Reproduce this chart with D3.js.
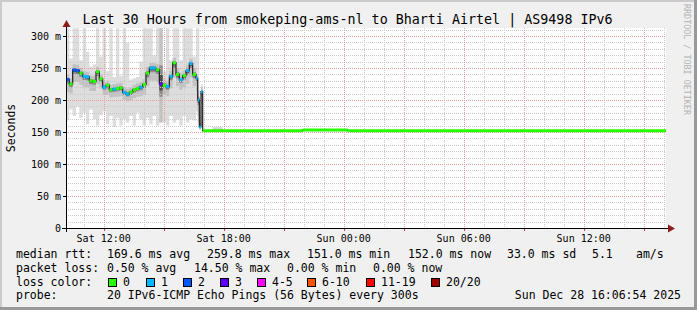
<!DOCTYPE html>
<html>
<head>
<meta charset="utf-8" />
<title>Smokeping - Bharti Airtel</title>
<script src="https://d3js.org/d3.v7.min.js"></script>
<style>
  body { margin: 0; background: #f0f0f0; }
  text { font-family: "DejaVu Sans Mono", monospace; white-space: pre; }
</style>
</head>
<body>
<svg id="viz"></svg>
<script>
var width = 697, height = 310;

// step starts in minutes after the left edge (Sat 10:06:54), last step runs to 1800
var stepStart = [0,10,20,30,40,50,60,70,80,90,100,110,120,130,140,150,160,170,180,190,
  200,210,220,230,240,250,260,270,280,290,300,310,320,330,340,350,360,370,380,390,395,400,405,
  410,440,470,710,845];
// median rtt in ms
var median = [232,225,247,246,242,237,236,230,229,244,233,220,223,216,217,218,219,212,209,212,
  216,218,220,224,242,250,250,247,225,223,221,237,258,240,232,238,246,257,240,234,200,158,213,
  152,152,152,153,152];
// lost pings out of 20
var lossCount = [2,0,2,2,0,1,1,0,0,0,0,1,0,0,1,0,0,1,1,0,
  0,0,1,0,0,1,1,0,3,0,1,1,0,0,1,0,1,1,0,1,1,1,1,
  0,0,0,0,0];
// smoke: fastest ping, lower/upper inner band, slowest ping (ms)
var pingLo = [168,185,175,190,172,180,162,185,170,160,176,182,162,175,158,172,160,170,165,175,
  160,180,170,160,172,162,175,160,165,165,160,175,165,170,160,175,165,170,168,182,165,154,160,
  151,151,151,152,151];
var pingQ1 = [212,210,228,228,224,220,220,214,214,225,218,208,208,204,205,205,206,200,198,200,
  203,205,206,208,222,230,230,228,165,208,206,218,235,222,216,220,225,235,222,215,175,154,195,
  151.5,151.5,151.5,152.5,151.5];
var pingQ3 = [240,234,256,255,250,245,244,238,238,252,240,228,230,224,225,226,227,220,218,220,
  224,226,228,232,252,258,258,256,312,232,230,246,266,250,242,246,255,265,250,240,215,175,220,
  152.5,155,152.5,153.5,152.5];
var pingHi = [312,265,312,312,262,312,275,252,256,312,268,312,245,312,236,312,238,312,290,232,
  234,236,260,312,312,312,270,312,312,245,312,262,312,312,262,312,312,312,268,312,312,190,225,
  152,158,152,153.5,152.5];

var lossLabels = ["0", "1", "2", "3", "4-5", "6-10", "11-19", "20/20"];
var lossColors = ["#26ff00", "#00b8ff", "#0059ff", "#5e00ff", "#ff00ff", "#ff5500", "#ff0000", "#a10000"];
var lossUpper = [0, 1, 2, 3, 5, 10, 19, 20];

var rttLegend = ["median rtt:", "169.6 ms avg", "259.8 ms max", "151.0 ms min", "152.0 ms now", "33.0 ms sd", "5.1", "am/s"];
var lossLegend = ["packet loss:", "0.50 % avg", "14.50 % max", "0.00 % min", "0.00 % now"];
var probeText = ["probe:", "20 IPv6-ICMP Echo Pings (56 Bytes) every 300s"];
var stampText = "Sun Dec 28 16:06:54 2025";
var titleText = "Last 30 Hours from smokeping-ams-nl to Bharti Airtel | AS9498 IPv6";

var svg = d3.select("#viz").attr("width", width).attr("height", height);

// canvas and frame
svg.append("rect").attr("width", width).attr("height", height).attr("fill", "#f0f0f0");
svg.append("rect").attr("x", 0).attr("y", 0).attr("width", width).attr("height", 2).attr("fill", "#cbcbcb");
svg.append("rect").attr("x", 0).attr("y", 0).attr("width", 2).attr("height", height).attr("fill", "#cbcbcb");
svg.append("rect").attr("x", width - 3).attr("y", 0).attr("width", 3).attr("height", height).attr("fill", "#999999");
svg.append("rect").attr("x", 0).attr("y", height - 3).attr("width", width).attr("height", 3).attr("fill", "#999999");

var t0 = new Date(2025, 11, 27, 10, 6, 54);
var t1 = new Date(2025, 11, 28, 16, 6, 54);
var x = d3.scaleTime().domain([t0, t1]).range([66, 666]);
var y = d3.scaleLinear().domain([0, 312.5]).range([228, 28]);
function at(m) { return new Date(t0.getTime() + m * 60000); }

svg.append("rect").attr("x", 66).attr("y", 28).attr("width", 600).attr("height", 200).attr("fill", "#ffffff");

var steps = stepStart.map(function(s, i) {
  return {
    s: s, e: i + 1 < stepStart.length ? stepStart[i + 1] : 1800,
    med: median[i], loss: lossCount[i],
    lo: pingLo[i], q1: pingQ1[i], q3: pingQ3[i], hi: pingHi[i]
  };
});
var pts = steps.concat([Object.assign({}, steps[steps.length - 1], { s: 1800 })]);

svg.append("clipPath").attr("id", "clip").append("rect")
  .attr("x", 66).attr("y", 28).attr("width", 600).attr("height", 200);
var plot = svg.append("g").attr("clip-path", "url(#clip)");

// smoke bands, lighter outside, darker near the median
var bands = [
  { lo: function(d) { return d.lo; }, hi: function(d) { return d.hi; }, c: "#dddddd" },
  { lo: function(d) { return d.q1; }, hi: function(d) { return d.q3; }, c: "#c2c2c2" },
  { lo: function(d) { return (d.q1 + 2 * d.med) / 3; }, hi: function(d) { return (d.q3 + 2 * d.med) / 3; }, c: "#8c8c8c" },
  { lo: function(d) { return (d.q1 + 5 * d.med) / 6; }, hi: function(d) { return (d.q3 + 5 * d.med) / 6; }, c: "#505050" }
];
bands.forEach(function(b) {
  plot.append("path").datum(pts)
    .attr("fill", b.c)
    .attr("d", d3.area().curve(d3.curveStepAfter)
      .x(function(d) { return x(at(d.s)); })
      .y0(function(d) { return y(b.lo(d)); })
      .y1(function(d) { return y(b.hi(d)); }));
});

// grid
var minorY = d3.range(10, 312.5, 10).filter(function(v) { return v % 50 !== 0; });
var majorY = d3.range(50, 312.5, 50);
var hours = x.ticks(d3.timeHour.every(1));
var grid = svg.append("g").attr("shape-rendering", "crispEdges");
grid.selectAll(".hmin").data(minorY).enter().append("line")
  .attr("x1", 66).attr("x2", 666)
  .attr("y1", function(d) { return Math.round(y(d)) + 0.5; })
  .attr("y2", function(d) { return Math.round(y(d)) + 0.5; })
  .attr("stroke", "#cacaca").attr("stroke-dasharray", "1,1");
grid.selectAll(".vmin").data(hours.filter(function(d) { return d.getHours() % 3 !== 0; })).enter().append("line")
  .attr("y1", 28).attr("y2", 228)
  .attr("x1", function(d) { return Math.round(x(d)) + 0.5; })
  .attr("x2", function(d) { return Math.round(x(d)) + 0.5; })
  .attr("stroke", "#cacaca").attr("stroke-dasharray", "1,1");
grid.selectAll(".hmaj").data(majorY).enter().append("line")
  .attr("x1", 66).attr("x2", 666)
  .attr("y1", function(d) { return Math.round(y(d)) + 0.5; })
  .attr("y2", function(d) { return Math.round(y(d)) + 0.5; })
  .attr("stroke", "#e4a0a0").attr("stroke-dasharray", "1,1");
grid.selectAll(".vmaj").data(hours.filter(function(d) { return d.getHours() % 3 === 0; })).enter().append("line")
  .attr("y1", 28).attr("y2", 228)
  .attr("x1", function(d) { return Math.round(x(d)) + 0.5; })
  .attr("x2", function(d) { return Math.round(x(d)) + 0.5; })
  .attr("stroke", "#e4a0a0").attr("stroke-dasharray", "1,1");

// median line and loss coloured steps
var lines = svg.append("g").attr("clip-path", "url(#clip)");
lines.append("path").datum(pts)
  .attr("fill", "none").attr("stroke", "#202020").attr("stroke-width", 1.2)
  .attr("d", d3.line().curve(d3.curveStepAfter)
    .x(function(d) { return x(at(d.s)); })
    .y(function(d) { return y(d.med); }));
function lossColor(n) {
  for (var i = 0; i < lossUpper.length; i++) if (n <= lossUpper[i]) return lossColors[i];
  return lossColors[lossColors.length - 1];
}
lines.selectAll(".seg").data(steps).enter().append("line")
  .attr("x1", function(d) { return x(at(d.s)); })
  .attr("x2", function(d) { return x(at(d.e)); })
  .attr("y1", function(d) { return y(d.med); })
  .attr("y2", function(d) { return y(d.med); })
  .attr("stroke", function(d) { return lossColor(d.loss); })
  .attr("stroke-width", 3);

// axes
var axis = svg.append("g").attr("shape-rendering", "crispEdges");
axis.append("line").attr("x1", 62).attr("x2", 669).attr("y1", 228.5).attr("y2", 228.5).attr("stroke", "#000");
axis.append("line").attr("x1", 66.5).attr("x2", 66.5).attr("y1", 232).attr("y2", 25).attr("stroke", "#000");
axis.selectAll(".yt").data(majorY.concat([0])).enter().append("line")
  .attr("x1", 63).attr("x2", 66)
  .attr("y1", function(d) { return Math.round(y(d)) + 0.5; })
  .attr("y2", function(d) { return Math.round(y(d)) + 0.5; })
  .attr("stroke", "#000");
axis.selectAll(".xt").data(hours.filter(function(d) { return d.getHours() % 3 === 0; })).enter().append("line")
  .attr("y1", 229).attr("y2", 231)
  .attr("x1", function(d) { return Math.round(x(d)) + 0.5; })
  .attr("x2", function(d) { return Math.round(x(d)) + 0.5; })
  .attr("stroke", "#c04040");
svg.append("path").attr("d", "M62.5,27 L70.5,27 L66.5,20 Z").attr("fill", "#8e1c1c");
svg.append("path").attr("d", "M668,224.5 L668,232.5 L675,228.5 Z").attr("fill", "#8e1c1c");

svg.selectAll(".ylab").data([0].concat(majorY)).enter().append("text")
  .attr("x", 61).attr("y", function(d) { return y(d) + 3.5; })
  .attr("text-anchor", "end").attr("font-size", "10px").attr("fill", "#000")
  .text(function(d) { return d === 0 ? "0" : d + " m"; });

var fmt = d3.timeFormat("%a %H:%M");
svg.selectAll(".xlab").data(x.ticks(d3.timeHour.every(6))).enter().append("text")
  .attr("x", function(d) { return x(d); }).attr("y", 242)
  .attr("text-anchor", "middle").attr("font-size", "10px").attr("fill", "#000")
  .text(fmt);

// titles
svg.append("text").attr("x", 347.5).attr("y", 23.5).attr("text-anchor", "middle")
  .attr("font-size", "13.35px").attr("fill", "#000").text(titleText);
svg.append("text").attr("transform", "translate(15,128) rotate(-90)").attr("text-anchor", "middle")
  .attr("font-size", "11.5px").attr("fill", "#000").text("Seconds");
svg.append("text").attr("transform", "translate(684,4) rotate(90)")
  .attr("font-size", "8.4px").attr("fill", "#b4b4b4").text("RRDTOOL / TOBI OETIKER");

// legend
var rttX = [16, 107, 207, 307, 408, 507, 592, 636];
var lossX = [16, 107, 194, 287, 373];
var boxX = [108, 146, 183, 220, 257, 307, 366, 431];
var legend = svg.append("g").attr("font-size", "11.5px").attr("fill", "#000");
legend.selectAll(".rtt").data(rttLegend).enter().append("text")
  .attr("x", function(d, i) { return rttX[i]; }).attr("y", 258).text(function(d) { return d; });
legend.selectAll(".pl").data(lossLegend).enter().append("text")
  .attr("x", function(d, i) { return lossX[i]; }).attr("y", 272).text(function(d) { return d; });
legend.append("text").attr("x", 16).attr("y", 285.5).text("loss color:");
legend.selectAll(".box").data(lossColors).enter().append("rect")
  .attr("x", function(d, i) { return boxX[i] + 0.5; }).attr("y", 278.5)
  .attr("width", 8).attr("height", 8)
  .attr("fill", function(d) { return d; }).attr("stroke", "#000").attr("stroke-width", 1);
legend.selectAll(".lc").data(lossLabels).enter().append("text")
  .attr("x", function(d, i) { return boxX[i] + 15; }).attr("y", 285.5).text(function(d) { return d; });
legend.append("text").attr("x", 16).attr("y", 299).text(probeText[0]);
legend.append("text").attr("x", 107).attr("y", 299).text(probeText[1]);
legend.append("text").attr("x", 681).attr("y", 299).attr("text-anchor", "end").text(stampText);
</script>
</body>
</html>
